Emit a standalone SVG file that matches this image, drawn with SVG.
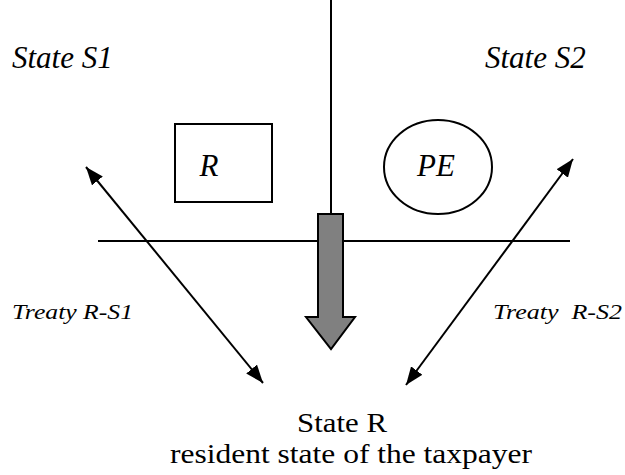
<svg xmlns="http://www.w3.org/2000/svg" width="625" height="475" viewBox="0 0 625 475">
<style>
.ln{stroke:#000;stroke-width:2;fill:none}
text{font-family:'Liberation Serif','Times New Roman',serif;fill:#000}
.it{font-style:italic}
</style>
<defs>
<marker id="ah" viewBox="0 0 18 14" refX="18" refY="7" markerWidth="18" markerHeight="14" markerUnits="userSpaceOnUse" orient="auto-start-reverse">
<path d="M0,0 L18,7 L0,14 Z" fill="#000"/>
</marker>
</defs>
<rect width="625" height="475" fill="#fff"/>
<g id="labels">
<text class="it" x="12" y="68" font-size="31">State S1</text>
<text class="it" x="485" y="68" font-size="31">State S2</text>
<text class="it" x="12" y="319" font-size="22" textLength="121" lengthAdjust="spacingAndGlyphs">Treaty R-S1</text>
<text class="it" x="493" y="319" font-size="22" textLength="129" lengthAdjust="spacingAndGlyphs" xml:space="preserve">Treaty  R-S2</text>
</g>
<g id="border">
<line class="ln" x1="331" y1="0" x2="331" y2="214"/>
<line class="ln" x1="98" y1="241" x2="570" y2="241"/>
</g>
<g id="node-R">
<rect class="ln" x="175" y="124" width="97" height="78"/>
<text class="it" x="209" y="176" font-size="31" text-anchor="middle">R</text>
</g>
<g id="node-PE">
<ellipse class="ln" cx="438" cy="167" rx="54" ry="47"/>
<text class="it" x="436" y="176" font-size="31" text-anchor="middle">PE</text>
</g>
<g id="node-StateR">
<text x="342" y="432" font-size="28" text-anchor="middle" textLength="90" lengthAdjust="spacingAndGlyphs">State R</text>
<text x="351" y="463" font-size="28" text-anchor="middle" textLength="362" lengthAdjust="spacingAndGlyphs">resident state of the taxpayer</text>
</g>
<g id="connectors">
<line class="ln" x1="86" y1="167" x2="263" y2="383" marker-start="url(#ah)" marker-end="url(#ah)"/>
<line class="ln" x1="573" y1="159" x2="406" y2="385" marker-start="url(#ah)" marker-end="url(#ah)"/>
<path d="M318,214 H343 V317 H355 L331,349 L306,317 H318 Z" fill="#808080" stroke="#000" stroke-width="2"/>
</g>
</svg>
